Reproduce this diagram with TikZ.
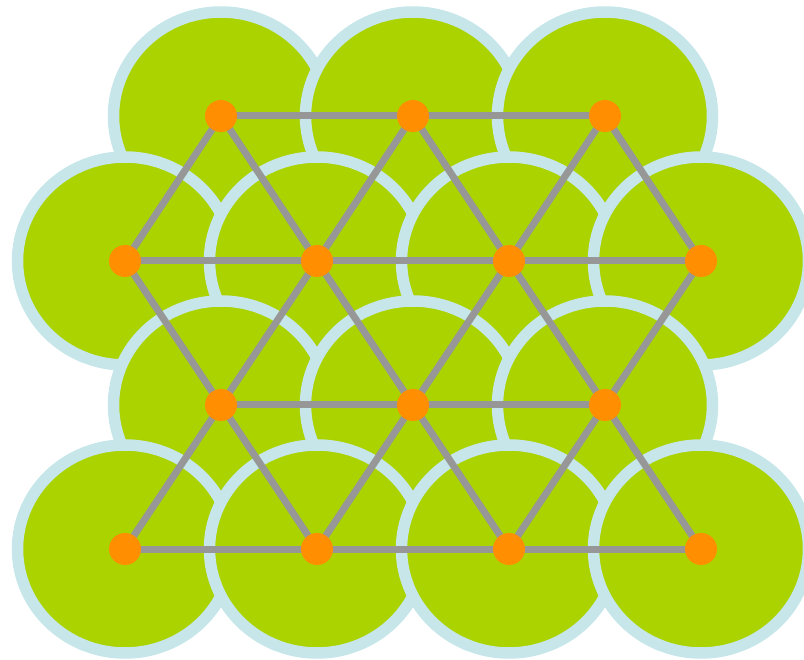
\documentclass[tikz,border=0pt]{standalone}
\definecolor{disk}{HTML}{AAD300}
\definecolor{rim}{HTML}{C6E6EA}
\definecolor{dotc}{HTML}{FF8F00}
\definecolor{edgec}{HTML}{979797}
\tikzset{
  diskstyle/.style={fill=disk, draw=rim, line width=11.5pt},
  edgestyle/.style={draw=edgec, line width=7pt},
  dotstyle/.style={circle, fill=dotc, minimum size=32pt, inner sep=0pt, draw=none}
}
\begin{document}
\begin{tikzpicture}[x=1pt,y=-1pt]
\useasboundingbox (0,0) rectangle (804,660);
\clip (0,0) rectangle (804,660);
% disks, top to bottom, left to right
\foreach \cx/\cy in {221/116,413/116,605/116,
                     125/261,317/261,509/261,701/261,
                     221/405,413/405,605/405,
                     125/549,317/549,509/549,701/549}
  \draw[diskstyle] (\cx,\cy) ellipse [x radius=107.5, y radius=104];
% nodes
\coordinate (a1) at (221,116); \coordinate (a2) at (413,116); \coordinate (a3) at (605,116);
\coordinate (b1) at (125,261); \coordinate (b2) at (317,261); \coordinate (b3) at (509,261); \coordinate (b4) at (701,261);
\coordinate (c1) at (221,405); \coordinate (c2) at (413,405); \coordinate (c3) at (605,405);
\coordinate (d1) at (125,549); \coordinate (d2) at (317,549); \coordinate (d3) at (509,549); \coordinate (d4) at (701,549);
% edges
\foreach \p/\q in {a1/a2,a2/a3,b1/b2,b2/b3,b3/b4,c1/c2,c2/c3,d1/d2,d2/d3,d3/d4,
                   a1/b1,a1/b2,a2/b2,a2/b3,a3/b3,a3/b4,
                   b1/c1,b2/c1,b2/c2,b3/c2,b3/c3,b4/c3,
                   c1/d1,c1/d2,c2/d2,c2/d3,c3/d3,c3/d4}
  \draw[edgestyle] (\p) -- (\q);
\foreach \n in {a1,a2,a3,b1,b2,b3,b4,c1,c2,c3,d1,d2,d3,d4}
  \node[dotstyle] (n\n) at (\n) {};
\end{tikzpicture}
\end{document}
